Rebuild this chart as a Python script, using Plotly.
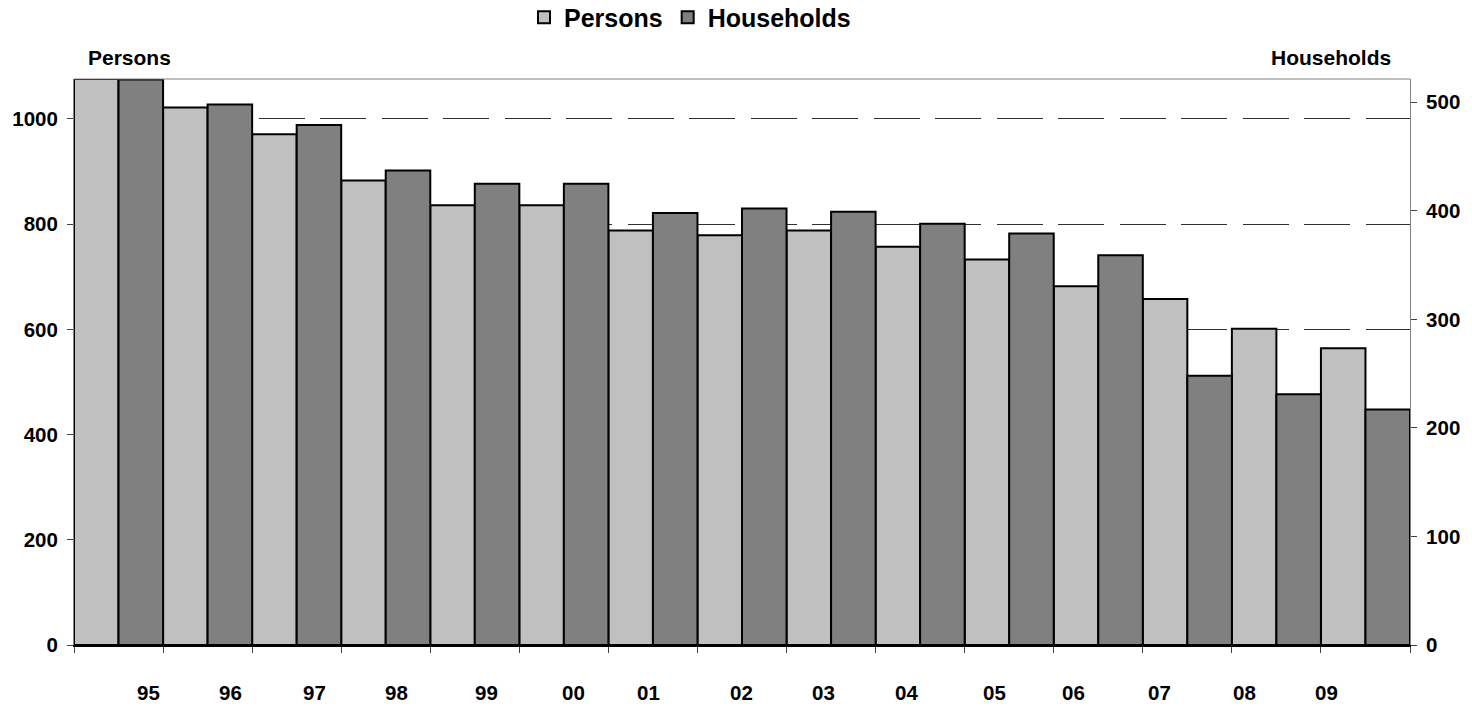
import plotly.graph_objects as go

# ---- data ----
years = ['95', '96', '97', '98', '99', '00', '01', '02', '03', '04', '05', '06', '07', '08', '09']
persons = [1076, 1022, 971, 883, 836, 836, 788, 779, 788, 757, 733, 682, 658, 601, 564]
households = [521, 498, 479, 437, 425, 425, 398, 402, 399, 388, 379, 359, 248, 231, 217]
left_ticks = [0, 200, 400, 600, 800, 1000]
right_ticks = [0, 100, 200, 300, 400, 500]
# where the year labels sit along the category axis (in category units)
label_pos = [0.34, 1.26, 2.20, 3.12, 4.13, 5.11, 5.95, 6.99, 7.92, 8.85, 9.83, 10.72, 11.69, 12.64, 13.56]

FONT = "Liberation Sans, Arial, sans-serif"
W, H = 1472, 707
ML, MR, MT, MB = 74, 62, 79, 62
PW, PH = W - ML - MR, H - MT - MB


def px_x(px):
    return (px - ML) / PW


def px_y(py):
    return (H - MB - py) / PH


idx = list(range(len(years)))

fig = go.Figure()
fig.add_trace(go.Bar(
    x=idx, y=persons, name='Persons', yaxis='y',
    width=0.5, offset=-0.5,
    marker=dict(color='#C0C0C0', line=dict(color='black', width=2)),
))
fig.add_trace(go.Bar(
    x=idx, y=households, name='Households', yaxis='y2',
    width=0.5, offset=0.0,
    marker=dict(color='#808080', line=dict(color='black', width=2)),
))

tickfont = dict(family=FONT, size=20.5, color='black', weight='bold')

annotations = []
for pos, lab in zip(label_pos, years):
    annotations.append(dict(
        x=pos, xref='x', y=px_y(692), yref='paper', text=lab, showarrow=False,
        xanchor='center', yanchor='middle', font=tickfont,
    ))
annotations.append(dict(
    x=px_x(129.5), xref='paper', y=px_y(57.5), yref='paper', text='Persons',
    showarrow=False, xanchor='center', yanchor='middle',
    font=dict(family=FONT, size=21, color='black', weight='bold'),
))
annotations.append(dict(
    x=px_x(1393), xref='paper', y=px_y(57.5), yref='paper', text='Households',
    showarrow=False, xanchor='right', yanchor='middle',
    font=dict(family=FONT, size=21, color='black', weight='bold'),
))

fig.update_layout(
    width=W, height=H,
    margin=dict(l=ML, r=MR, t=MT, b=MB, pad=0),
    paper_bgcolor='white', plot_bgcolor='white',
    barmode='overlay',
    showlegend=True,
    legend=dict(
        orientation='h', x=px_x(524), xanchor='left',
        yref='container', y=1 - 17.5 / H, yanchor='middle',
        font=dict(family=FONT, size=25, color='black', weight='bold'),
        bgcolor='rgba(0,0,0,0)', borderwidth=0, traceorder='normal',
        itemclick=False, itemwidth=30,
    ),
    xaxis=dict(
        range=[-0.5, len(years) - 0.5],
        tickmode='array',
        tickvals=[i - 0.5 for i in range(len(years) + 1)],
        ticktext=['' for _ in range(len(years) + 1)],
        ticks='outside', ticklen=6, tickwidth=1, tickcolor='#404040',
        showline=True, linecolor='black', linewidth=2,
        showgrid=False, zeroline=False, fixedrange=True,
    ),
    yaxis=dict(
        range=[0, 1076],
        tickmode='array', tickvals=left_ticks,
        ticks='outside', ticklen=6, tickwidth=1, tickcolor='#404040',
        tickfont=tickfont, ticklabelstandoff=5,
        showline=True, linecolor='#808080', linewidth=1,
        showgrid=True, gridcolor='#303030', gridwidth=1, griddash='46px,15.5px',
        zeroline=False, fixedrange=True,
    ),
    yaxis2=dict(
        range=[0, 521.4], overlaying='y', side='right',
        tickmode='array', tickvals=right_ticks,
        ticks='outside', ticklen=6, tickwidth=1, tickcolor='#404040',
        tickfont=tickfont, ticklabelstandoff=5,
        showline=True, linecolor='#808080', linewidth=1,
        showgrid=False, zeroline=False, fixedrange=True,
    ),
    shapes=[dict(type='line', xref='paper', yref='paper', x0=0, x1=1, y0=1, y1=1,
                 line=dict(color='#808080', width=1), layer='above')],
    annotations=annotations,
)

fig.write_html("out.html", config={'displayModeBar': False},
               post_script="document.body.style.margin='0';")
